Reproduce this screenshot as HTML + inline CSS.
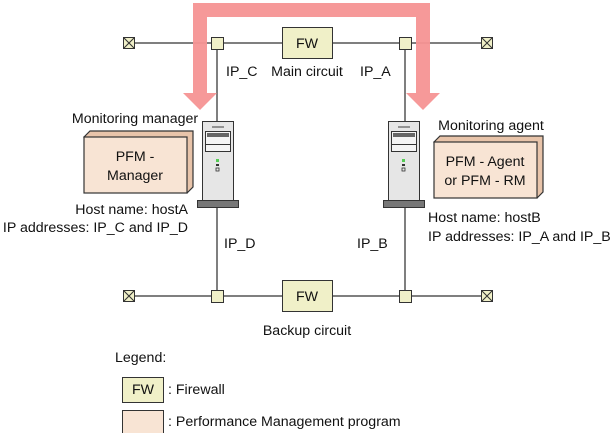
<!DOCTYPE html>
<html><head><meta charset="utf-8"><style>
body{margin:0;background:#fff}
svg text{font-family:"Liberation Sans",sans-serif;font-size:14.2px;fill:#111}
</style></head><body>
<svg width="615" height="433" viewBox="0 0 615 433" xmlns="http://www.w3.org/2000/svg">
<g stroke="#555" stroke-width="1.5" fill="none">
<line x1="129" y1="43" x2="487" y2="43"/>
<line x1="129" y1="296" x2="487" y2="296"/>
<line x1="217" y1="43" x2="217" y2="296"/>
<line x1="405" y1="43" x2="405" y2="296"/>
</g>
<path d="M193,3 H430 V93 H440 L423,110 L406,93 H416 V17 H207 V93 H217 L200,110 L183,93 H193 Z" fill="#f59393" opacity="0.95"/>
<g fill="#f0f0c8" stroke="#333" stroke-width="1">
<rect x="123.5" y="37.5" width="11" height="11"/><path d="M123.5,37.5 L134.5,48.5 M134.5,37.5 L123.5,48.5"/>
<rect x="481.5" y="37.5" width="11" height="11"/><path d="M481.5,37.5 L492.5,48.5 M492.5,37.5 L481.5,48.5"/>
<rect x="123.5" y="290.5" width="11" height="11"/><path d="M123.5,290.5 L134.5,301.5 M134.5,290.5 L123.5,301.5"/>
<rect x="481.5" y="290.5" width="11" height="11"/><path d="M481.5,290.5 L492.5,301.5 M492.5,290.5 L481.5,301.5"/>
<rect x="211.5" y="37.5" width="12" height="12"/><rect x="399.5" y="37.5" width="12" height="12"/>
<rect x="211.5" y="290.5" width="12" height="12"/><rect x="399.5" y="290.5" width="12" height="12"/>
<rect x="282.5" y="27.5" width="50" height="31"/><rect x="282.5" y="280.5" width="50" height="31"/>
<rect x="122.5" y="377.5" width="41" height="25"/>
</g>
<rect x="122.5" y="410.5" width="41" height="25" fill="#f8e4d4" stroke="#333"/>
<g id="srv">
<rect x="202.5" y="121.5" width="31" height="79" fill="#e6e6e6" stroke="#333"/>
<line x1="212" y1="127" x2="224" y2="127" stroke="#777" stroke-width="1.5"/>
<rect x="205.5" y="131.5" width="25" height="20" fill="#f4f4f4" stroke="#333"/>
<rect x="207" y="133" width="22" height="4" fill="#666"/>
<line x1="206" y1="144.5" x2="230" y2="144.5" stroke="#333"/>
<rect x="216" y="159" width="3" height="3" fill="#5c5"/>
<rect x="216" y="164" width="3" height="2" fill="#333"/>
<rect x="216" y="168" width="3" height="3" fill="none" stroke="#333" stroke-width="0.8"/>
<rect x="197.5" y="200.5" width="41" height="7" fill="#777" stroke="#333"/>
</g>
<use href="#srv" transform="translate(186,0)"/>
<g stroke="#333" stroke-width="1.2">
<path d="M84,137 L90,131 H193 V187 L187,193 Z" fill="#e8c4aa"/>
<rect x="84" y="137" width="103" height="56" fill="#f8e4d4"/>
<path d="M434,142 L440,136 H543 V192 L537,198 Z" fill="#e8c4aa"/>
<rect x="434" y="142" width="103" height="56" fill="#f8e4d4"/>
</g>
<text x="307" y="48" text-anchor="middle">FW</text>
<text x="307" y="301" text-anchor="middle">FW</text>
<text x="143" y="394" text-anchor="middle">FW</text>
<text x="226" y="76">IP_C</text>
<text x="307" y="76" text-anchor="middle">Main circuit</text>
<text x="360" y="76">IP_A</text>
<text x="224" y="248">IP_D</text>
<text x="357" y="248">IP_B</text>
<text x="307" y="335" text-anchor="middle">Backup circuit</text>
<text x="135" y="123" text-anchor="middle">Monitoring manager</text>
<text x="135" y="161" text-anchor="middle">PFM -</text>
<text x="135" y="180" text-anchor="middle">Manager</text>
<text x="188" y="214" text-anchor="end">Host name: hostA</text>
<text x="188" y="232" text-anchor="end">IP addresses: IP_C and IP_D</text>
<text x="491" y="130" text-anchor="middle">Monitoring agent</text>
<text x="485" y="166" text-anchor="middle">PFM - Agent</text>
<text x="485" y="185" text-anchor="middle">or PFM - RM</text>
<text x="428" y="222">Host name: hostB</text>
<text x="428" y="241">IP addresses: IP_A and IP_B</text>
<text x="115" y="362">Legend:</text>
<text x="168" y="394">: Firewall</text>
<text x="168" y="426">: Performance Management program</text>
</svg>
</body></html>
